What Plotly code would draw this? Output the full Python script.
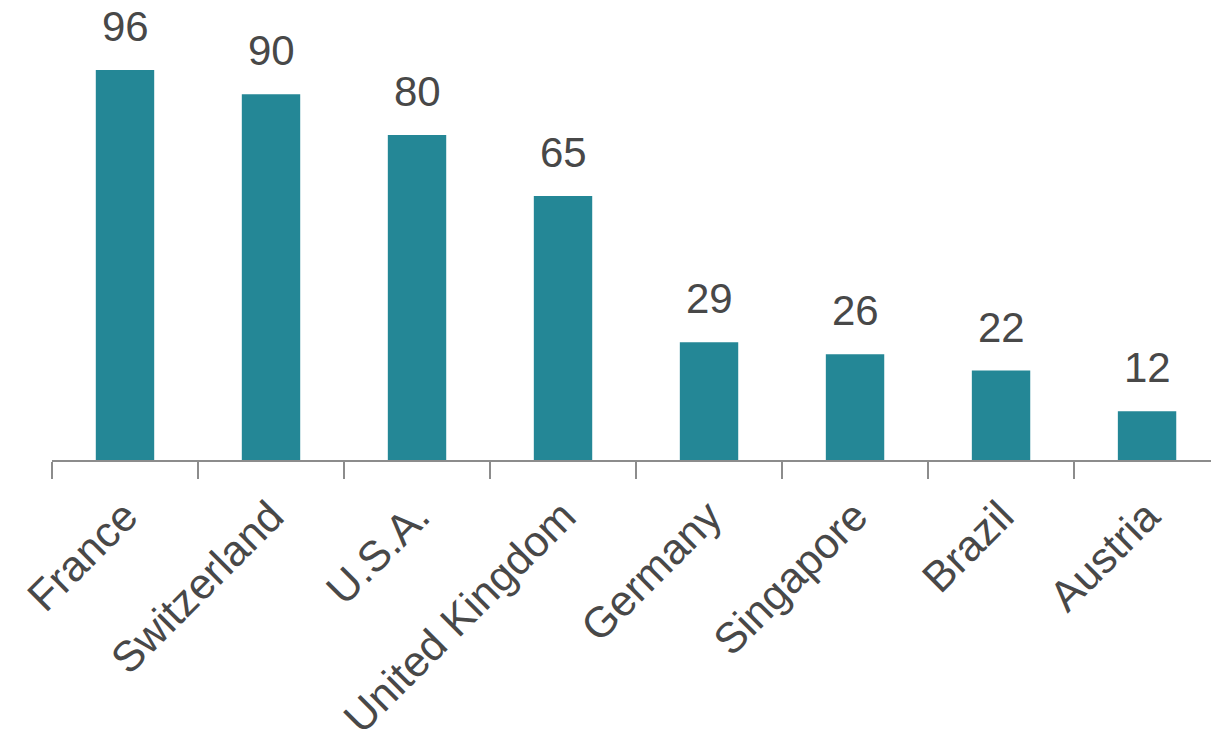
import plotly.graph_objects as go

countries = ["France", "Switzerland", "U.S.A.", "United Kingdom", "Germany", "Singapore", "Brazil", "Austria"]
values = [96, 90, 80, 65, 29, 26, 22, 12]

BAR_COLOR = "#248796"
TEXT_COLOR = "#484848"
AXIS_COLOR = "#8c8c8c"
FONT = "Liberation Sans, Arial, sans-serif"

fig = go.Figure()
fig.add_trace(go.Bar(
    x=countries, y=values,
    marker=dict(color=BAR_COLOR, line=dict(width=0)),
    width=0.40,
    hoverinfo="skip",
))

for c, v in zip(countries, values):
    fig.add_annotation(
        x=c, y=v, text=str(v), showarrow=False,
        yanchor="bottom", yshift=18,
        font=dict(size=42, color=TEXT_COLOR, family=FONT),
    )

fig.update_layout(
    width=1211, height=751,
    margin=dict(l=52, r=0, t=0, b=291),
    paper_bgcolor="white", plot_bgcolor="white",
    showlegend=False,
    font=dict(family=FONT, color=TEXT_COLOR),
    xaxis=dict(
        range=[-0.5, 7.438],
        automargin=False,
        showline=True, linecolor=AXIS_COLOR, linewidth=1.5,
        ticks="outside", tickson="boundaries", ticklen=17,
        tickcolor=AXIS_COLOR, tickwidth=1.5,
        tickangle=-45,
        ticklabelstandoff=12,
        tickfont=dict(size=43, color=TEXT_COLOR, family=FONT),
        showgrid=False, zeroline=False,
    ),
    yaxis=dict(
        range=[0, 113.23],
        automargin=False,
        visible=False, showgrid=False, zeroline=False,
    ),
)

fig.write_html("out.html")
